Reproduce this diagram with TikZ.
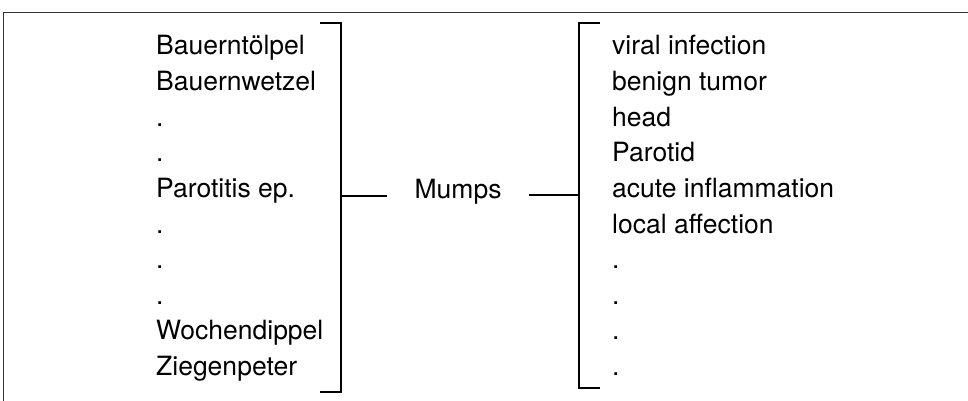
\documentclass[tikz,border=0pt]{standalone}
\usepackage{fontspec}
\setmainfont{TeX Gyre Heros}

\begin{document}
\begin{tikzpicture}[x=1pt, y=-1pt,
  term/.style={anchor=base west, inner sep=0pt, font=\fontsize{26.5}{30}\selectfont},
  brace/.style={line width=2.8pt},
  link/.style={line width=1.6pt},
  frame/.style={line width=0.9pt, black!80}]
  \useasboundingbox (0,0) rectangle (968,401);
  \draw[frame] (3,401) -- (3,12) -- (968,12);
  % synonyms
  \foreach \t [count=\i from 0] in {Bauerntölpel, Bauernwetzel, ., ., Parotitis ep., ., ., ., Wochendippel, Ziegenpeter}
    \node[term] (L\i) at (156, 55+35.6*\i) {\t};
  % attributes
  \foreach \t [count=\i from 0] in {viral infection, benign tumor, head, Parotid, acute inflammation, local affection, ., ., ., .}
    \node[term] (R\i) at (612, 55+35.6*\i) {\t};
  \node[term, anchor=base, inner xsep=27pt, inner ysep=0pt] (mumps) at (458,198) {Mumps};
  % brackets
  \coordinate (LbT) at (341,23);
  \coordinate (LbM) at (341,196);
  \coordinate (LbB) at (341,392);
  \coordinate (RbT) at (579,23);
  \coordinate (RbM) at (579,195);
  \coordinate (RbB) at (579,388);
  \draw[brace] ([xshift=-21pt]LbT) -- (LbT) -- (LbB) -- ([xshift=-21pt]LbB);
  \draw[brace] ([xshift=21pt]RbT) -- (RbT) -- (RbB) -- ([xshift=21pt]RbB);
  \draw[link] (LbM) -- (LbM -| mumps.west);
  \draw[link] (mumps.east |- RbM) -- (RbM);
\end{tikzpicture}
\end{document}
